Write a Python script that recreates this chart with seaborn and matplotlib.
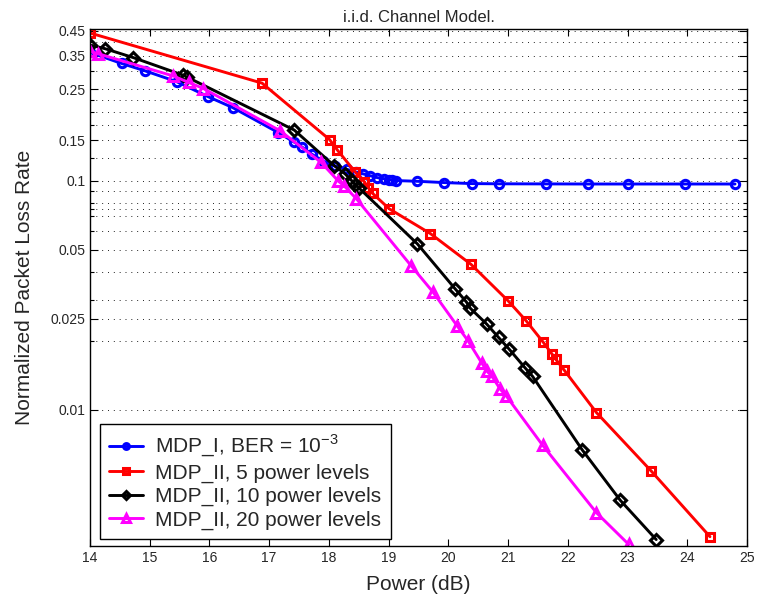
import numpy as np
import pandas as pd
import matplotlib
matplotlib.use("Agg")
import matplotlib.pyplot as plt
import matplotlib.ticker as mticker
import seaborn as sns

sns.set_style("ticks")
plt.rcParams["font.family"] = ["Liberation Sans", "DejaVu Sans"]
plt.rcParams["mathtext.fontset"] = "custom"
plt.rcParams["mathtext.rm"] = "Liberation Sans"

# ── data ────────────────────────────────────────────────────────────────────
mdp1_x = [14.0, 14.53, 14.92, 15.45, 15.98, 16.39, 17.15, 17.42, 17.55, 17.72,
          17.9, 18.1, 18.3, 18.45, 18.57, 18.69, 18.81, 18.92, 19.0, 19.06,
          19.12, 19.47, 19.93, 20.4, 20.85, 21.64, 22.34, 23.0, 23.97, 24.8]
mdp1_y = [0.362, 0.324, 0.301, 0.27, 0.232, 0.208, 0.162, 0.147, 0.14, 0.13,
          0.122, 0.116, 0.112, 0.109, 0.107, 0.105, 0.103, 0.102, 0.101, 0.1005,
          0.1, 0.0993, 0.098, 0.097, 0.0968, 0.0967, 0.0966, 0.0966, 0.0966, 0.0966]

p5_x = [14.0, 16.88, 18.01, 18.14, 18.44, 18.59, 18.66, 18.73, 19.01, 19.7,
        20.38, 21.0, 21.3, 21.59, 21.73, 21.8, 21.94, 22.48, 23.4, 24.38]
p5_y = [0.44, 0.266, 0.151, 0.136, 0.109, 0.099, 0.093, 0.088, 0.0753, 0.0587,
        0.0431, 0.0299, 0.0245, 0.0197, 0.0176, 0.0166, 0.0149, 0.00973, 0.0054, 0.0028]

p10_x = [14.0, 14.25, 14.72, 15.56, 15.62, 17.42, 18.09, 18.27, 18.38, 18.44,
         18.5, 19.48, 20.11, 20.3, 20.37, 20.64, 20.84, 21.01, 21.28, 21.41,
         22.24, 22.88, 23.48]
p10_y = [0.39, 0.376, 0.344, 0.288, 0.283, 0.166, 0.116, 0.107, 0.1, 0.096,
         0.093, 0.053, 0.0338, 0.0296, 0.0277, 0.0237, 0.0207, 0.0185, 0.0153, 0.014,
         0.0067, 0.00403, 0.00272]

p20_x = [14.0, 14.14, 15.39, 15.65, 15.9, 17.18, 17.87, 18.16, 18.26, 18.46,
         19.38, 19.74, 20.15, 20.33, 20.56, 20.64, 20.73, 20.87, 20.97, 21.58,
         22.48, 23.02]
p20_y = [0.366, 0.357, 0.286, 0.268, 0.252, 0.165, 0.12, 0.0993, 0.0945, 0.0833,
         0.0424, 0.0327, 0.0232, 0.02, 0.016, 0.0148, 0.014, 0.0123, 0.0115, 0.007,
         0.00356, 0.00259]

series = [
    (mdp1_x, mdp1_y, "MDP_I, BER = $10^{-3}$", "#0000ff", "o"),
    (p5_x, p5_y, "MDP_II, 5 power levels", "#ff0000", "s"),
    (p10_x, p10_y, "MDP_II, 10 power levels", "#000000", "D"),
    (p20_x, p20_y, "MDP_II, 20 power levels", "#ff00ff", "^"),
]

y_major = [0.01, 0.025, 0.05, 0.1, 0.15, 0.25, 0.35, 0.45]
y_major_labels = ["0.01", "0.025", "0.05", "0.1", "0.15", "0.25", "0.35", "0.45"]
y_minor = [0.02, 0.03, 0.04, 0.06, 0.07, 0.075, 0.08, 0.09,
           0.125, 0.175, 0.2, 0.225, 0.3, 0.4]
x_ticks = list(range(14, 26))

# ── figure ──────────────────────────────────────────────────────────────────
fig = plt.figure(figsize=(7.57, 6.03), dpi=100)
ax = fig.add_axes([90 / 757, 1 - 546 / 603, 657 / 757, 517 / 603])

for xs, ys, label, color, mk in series:
    df = pd.DataFrame({"x": xs, "y": ys})
    ms = 6 if mk != "^" else 7.5
    sns.lineplot(data=df, x="x", y="y", ax=ax, color=color, label=label,
                 marker=mk, markersize=ms, markerfacecolor="none",
                 markeredgecolor=color, markeredgewidth=2.2,
                 linewidth=2.1, estimator=None, sort=False)

ax.set_yscale("log")
ax.set_xlim(14, 25)
ax.set_ylim(0.00255, 0.458)

ax.yaxis.set_major_locator(mticker.FixedLocator(y_major))
ax.yaxis.set_major_formatter(mticker.FixedFormatter(y_major_labels))
ax.yaxis.set_minor_locator(mticker.FixedLocator(y_minor))
ax.yaxis.set_minor_formatter(mticker.NullFormatter())
ax.set_xticks(x_ticks)
ax.set_xticklabels([str(t) for t in x_ticks])

ax.tick_params(axis="both", which="both", direction="in", top=True, right=True,
               labelsize=10, color="black")
ax.tick_params(axis="y", which="major", length=6, width=0.8)
ax.tick_params(axis="y", which="minor", length=3, width=0.8)
ax.tick_params(axis="x", which="major", length=5, width=0.8)

ax.yaxis.grid(True, which="both", linestyle=(0, (1, 5)), color="#222222", linewidth=0.7)
ax.xaxis.grid(False)
for sp in ax.spines.values():
    sp.set_color("black")
    sp.set_linewidth(1.0)

ax.set_xlabel("Power (dB)", fontsize=15, labelpad=7)
ax.set_ylabel("Normalized Packet Loss Rate", fontsize=15, labelpad=12)
ax.set_title("i.i.d. Channel Model.", fontsize=12, pad=5)

leg = ax.legend(loc="lower left", bbox_to_anchor=(0.015, 0.0135), borderaxespad=0,
                fontsize=15, frameon=True, fancybox=False, framealpha=1,
                edgecolor="black", handlelength=1.6, handletextpad=0.6,
                labelspacing=0.2, borderpad=0.45, markerscale=0.7)
leg.get_frame().set_linewidth(1.0)

fig.savefig("out.png", dpi=100)
